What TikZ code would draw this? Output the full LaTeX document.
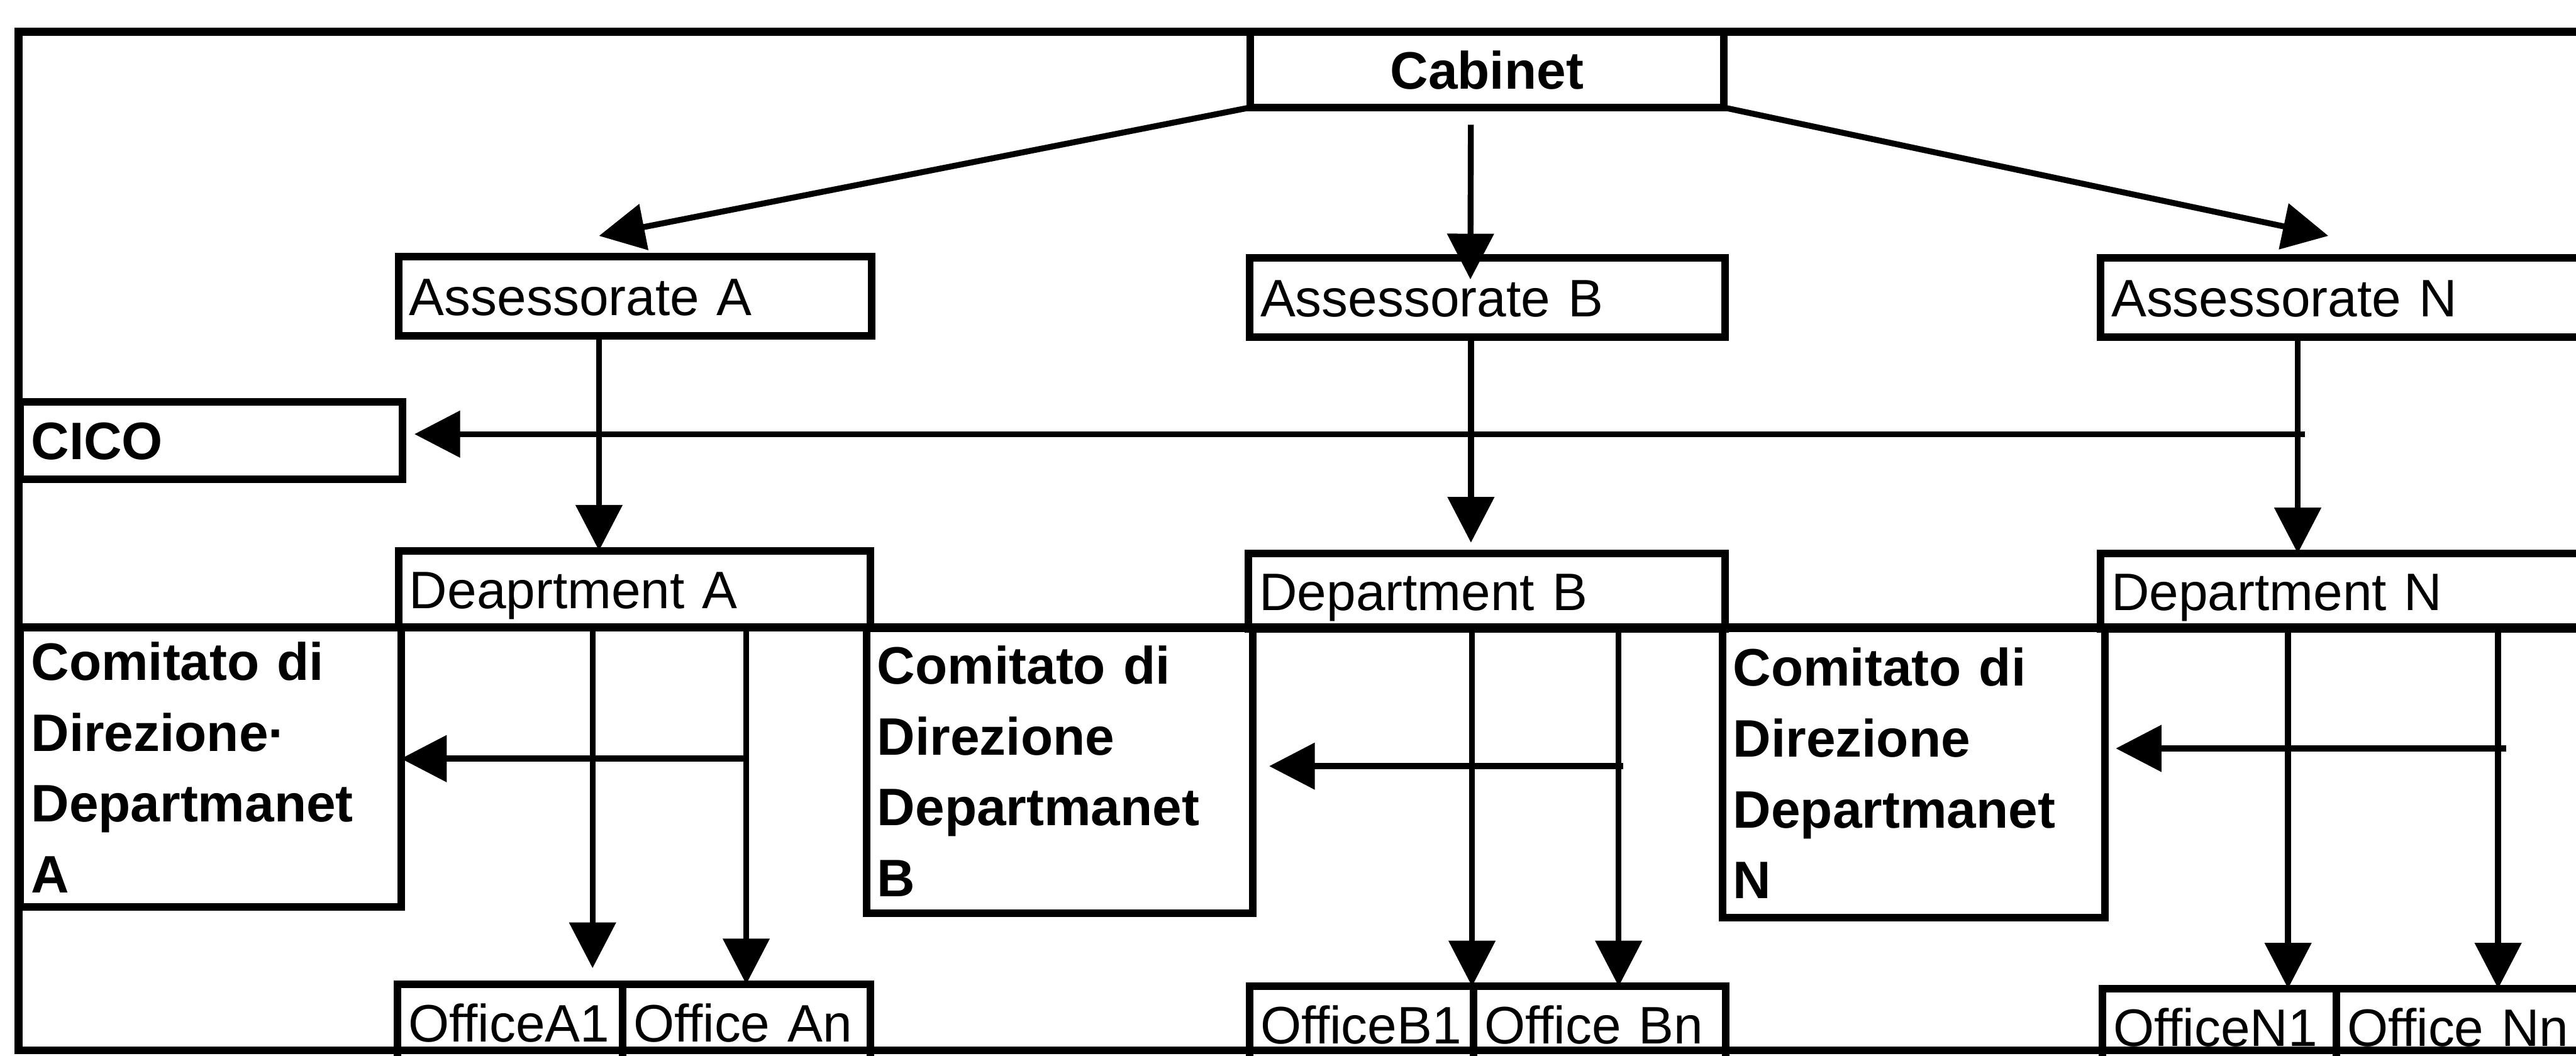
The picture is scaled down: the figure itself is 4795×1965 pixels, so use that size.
\documentclass[tikz,border=0pt]{standalone}
\usepackage{fontspec}
\setmainfont{Liberation Sans}
\usetikzlibrary{arrows.meta}
\newcommand\orgfont{\fontsize{27.9pt}{37.5pt}\selectfont}
\begin{document}
\begin{tikzpicture}[x=0.01cm,y=-0.01cm,
  unit/.style={draw, line width=0.14cm, anchor=north west, outer sep=0pt,
    inner xsep=0.2cm, inner ysep=0pt, align=left, font=\orgfont,
    text height=0.71cm, text depth=0pt},
  boldunit/.style={unit, font=\orgfont\bfseries},
  committee/.style={draw, line width=0.14cm, anchor=north west, outer sep=0pt,
    inner xsep=0.2cm, inner ysep=0pt, align=left, font=\orgfont\bfseries},
  conn/.style={line width=0.11cm, -{Triangle[length=0.85cm,width=0.85cm]}},
  rule/.style={line width=0.15cm}]

% canvas
\useasboundingbox (0,0) rectangle (4795,1965);
\fill[white] (0,0) rectangle (4795,1965);
\clip (0,0) rectangle (4795,1965);

% outer frame and the rule between departments and committees
\draw[rule] (35,59) rectangle (4950,1955);
\draw[rule] (35,1168) -- (4950,1168);

% top level
\node[boldunit, text width=8.41cm, minimum height=1.41cm, align=center] (cab) at (2327,59) {Cabinet};

% assessorates
\node[unit, text width=8.40cm, minimum height=1.47cm] (assA) at (742,478) {Assessorate A};
\node[unit, text width=8.44cm, minimum height=1.47cm] (assB) at (2326,480) {Assessorate B};
\node[unit, text width=9.60cm, minimum height=1.47cm] (assN) at (3910,480) {Assessorate N};

% coordination committee
\node[boldunit, text width=6.71cm, minimum height=1.44cm] (cico) at (38,748) {CICO};

% departments
\node[unit, text width=8.38cm, minimum height=1.43cm] (deptA) at (742,1025) {Deaprtment A};
\node[unit, text width=8.46cm, minimum height=1.40cm] (deptB) at (2324,1030) {Department B};
\node[unit, text width=9.60cm, minimum height=1.40cm] (deptN) at (3910,1030) {Department N};

% department steering committees
\node[committee, text width=6.68cm, minimum height=5.20cm] (comA) at (38,1168)
  {Comitato di\\Direzione·\\Departmanet\\A};
\node[committee, text width=6.79cm, minimum height=5.30cm] (comB) at (1613,1170)
  {Comitato di\\Direzione\\Departmanet\\B};
\node[committee, text width=6.72cm, minimum height=5.38cm] (comN) at (3206,1170)
  {Comitato di\\Direzione\\Departmanet\\N};

% offices
\node[unit, text width=3.79cm, minimum height=1.43cm] (offA1) at (740,1832) {OfficeA1};
\node[unit, text width=4.21cm, minimum height=1.43cm] (offAn) at (1159,1832) {Office An};
\node[unit, text width=3.77cm, minimum height=1.43cm] (offB1) at (2326,1836) {OfficeB1};
\node[unit, text width=4.29cm, minimum height=1.43cm] (offBn) at (2743,1836) {Office Bn};
\node[unit, text width=3.95cm, minimum height=1.43cm] (offN1) at (3914,1840) {OfficeN1};
\node[unit, text width=6.00cm, minimum height=1.43cm] (offNn) at (4349,1840) {Office Nn};

% free ends and connector columns
\coordinate (tipAssA) at (1115,439);
\coordinate (tipAssB) at (2737,520);
\coordinate (tipAssN) at (4334,439);
\coordinate (xA) at (1115,0);
\coordinate (xB) at (2738,0);
\coordinate (xN) at (4277,0);
\coordinate (xA1) at (1103,0);
\coordinate (xAn) at (1389,0);
\coordinate (xB1) at (2740,0);
\coordinate (xBn) at (3013,0);
\coordinate (xN1) at (4259,0);
\coordinate (xNn) at (4650,0);
\coordinate (cicoStart) at (4290,808);
\coordinate (comAstart) at (1385,1412);
\coordinate (comBstart) at (3022,1426);
\coordinate (comNstart) at (4665,1393);

% cabinet to assessorates
\draw[conn] (cab.south west) -- (tipAssA);
\draw[conn, shorten <=0.32cm] (cab.south -| xB) -- (tipAssB);
\draw[conn] (cab.south east) -- (tipAssN);

% assessorates to departments
\draw[conn] (assA.south -| xA) -- (deptA.north -| xA);
\draw[conn, shorten >=0.2cm] (assB.south -| xB) -- (deptB.north -| xB);
\draw[conn] (assN.south -| xN) -- (deptN.north -| xN);

% reporting lines to the committees
\draw[conn, shorten >=0.22cm] (cicoStart) -- (cicoStart -| cico.east);
\draw[conn] (comAstart) -- (comAstart -| comA.east);
\draw[conn, shorten >=0.3cm] (comBstart) -- (comBstart -| comB.east);
\draw[conn, shorten >=0.2cm] (comNstart) -- (comNstart -| comN.east);

% departments to offices
\draw[conn, shorten >=0.3cm] (deptA.south -| xA1) -- (offA1.north -| xA1);
\draw[conn] (deptA.south -| xAn) -- (offAn.north -| xAn);
\draw[conn] (deptB.south -| xB1) -- (offB1.north -| xB1);
\draw[conn] (deptB.south -| xBn) -- (offBn.north -| xBn);
\draw[conn] (deptN.south -| xN1) -- (offN1.north -| xN1);
\draw[conn] (deptN.south -| xNn) -- (offNn.north -| xNn);
\end{tikzpicture}
\end{document}
